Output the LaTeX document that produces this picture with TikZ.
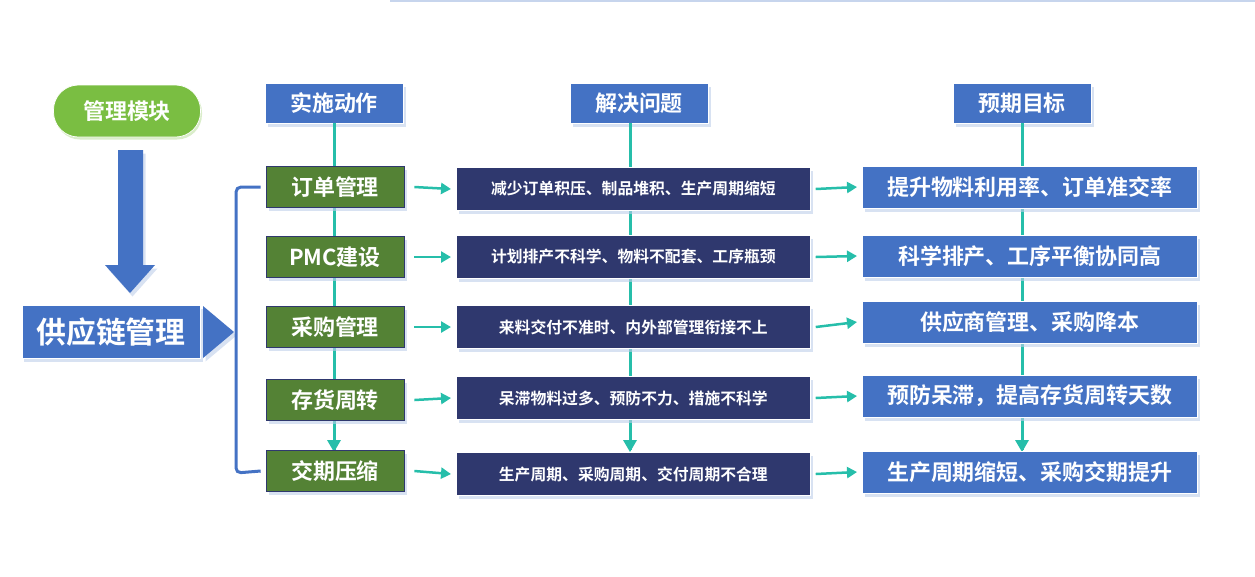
\documentclass[tikz,border=0pt]{standalone}
\usepackage{fontspec}
\setmainfont{Noto Sans CJK SC}[BoldFont={Noto Sans CJK SC Bold}]
\usetikzlibrary{shapes.geometric, arrows.meta, shadows}
\definecolor{hdblue}{RGB}{68,114,196}
\definecolor{actgreen}{RGB}{84,130,53}
\definecolor{pillgreen}{RGB}{122,190,66}
\definecolor{navy}{RGB}{47,56,110}
\definecolor{teal}{RGB}{38,190,170}
\tikzstyle{shade} = [drop shadow={shadow xshift=0.5mm, shadow yshift=-0.7mm, fill=hdblue!35, opacity=0.6}]
\tikzstyle{headbox} = [rectangle, minimum width=27.6mm, minimum height=8mm, draw=white, fill=hdblue, text=white, font=\bfseries\fontsize{12.5}{14}\selectfont, shade]
\tikzstyle{actbox} = [rectangle, minimum width=27.6mm, minimum height=8.2mm, draw=navy, fill=actgreen, text=white, font=\bfseries\fontsize{12.5}{14}\selectfont, shade]
\tikzstyle{probbox} = [rectangle, minimum width=70.8mm, minimum height=8.6mm, draw=white, fill=navy, text=white, font=\bfseries\fontsize{9}{11}\selectfont, shade, anchor=west, inner xsep=2mm]
\tikzstyle{goalbox} = [rectangle, minimum width=67mm, minimum height=8.4mm, draw=white, fill=hdblue, text=white, font=\bfseries\fontsize{12.5}{14}\selectfont, shade, anchor=west, inner xsep=2mm]
\tikzstyle{arrow} = [teal, line width=0.5mm, -{Triangle[length=2mm,width=2.2mm]}]
\tikzstyle{vline} = [teal, line width=0.6mm]

\begin{document}
\begin{tikzpicture}[x=0.2mm, y=-0.2mm]
\useasboundingbox (0,0) rectangle (1255,576);
\draw[hdblue!30, line width=0.6mm] (390,0) -- (1255,0);

% Left part
\node (module) [rounded corners=5mm, minimum width=29.4mm, minimum height=10.4mm, draw=white, fill=pillgreen, text=white, font=\bfseries\fontsize{12.5}{14}\selectfont, drop shadow={shadow xshift=0.3mm, shadow yshift=-0.5mm, fill=pillgreen!40, opacity=0.7}] at (127,111) {管理模块};
\fill[hdblue, shade] (118,150) -- (143,150) -- (143,265) -- (155,265) -- (130,293) -- (105,265) -- (118,265) -- cycle;
\node (supply) [rectangle, minimum width=35.6mm, minimum height=10.6mm, draw=white, fill=hdblue, text=white, font=\bfseries\fontsize{17}{19}\selectfont, shade] at (111,332) {供应链管理};
\fill[hdblue, shade] (203,306) -- (234,332) -- (203,358) -- cycle;

% Headers
\node (hact) [headbox] at (334,103) {实施动作};
\node (hprob) [headbox] at (639,103) {解决问题};
\node (hgoal) [headbox] at (1022,103) {预期目标};

% Vertical lines (behind boxes)
\draw [vline] (hact) -- (334,450);
\draw [vline] (630,123) -- (630,450);
\draw [vline] (1022,123) -- (1022,450);
\fill[teal] (327,440) -- (341,440) -- (334,452) -- cycle;
\fill[teal] (623,440) -- (637,440) -- (630,452) -- cycle;
\fill[teal] (1015,440) -- (1029,440) -- (1022,452) -- cycle;

% Rows
\node (a1) [actbox] at (335,187) {订单管理};
\node (a2) [actbox] at (335,257) {PMC建设};
\node (a3) [actbox] at (335,327) {采购管理};
\node (a4) [actbox] at (335,400) {存货周转};
\node (a5) [actbox] at (335,471) {交期压缩};

\node (p1) [probbox] at (456,189) {减少订单积压、制品堆积、生产周期缩短};
\node (p2) [probbox] at (456,257) {计划排产不科学、物料不配套、工序瓶颈};
\node (p3) [probbox] at (456,327) {来料交付不准时、内外部管理衔接不上};
\node (p4) [probbox] at (456,398) {呆滞物料过多、预防不力、措施不科学};
\node (p5) [probbox] at (456,474) {生产周期、采购周期、交付周期不合理};

\node (g1) [goalbox] at (862,187) {提升物料利用率、订单准交率};
\node (g2) [goalbox] at (862,256) {科学排产、工序平衡协同高};
\node (g3) [goalbox] at (862,322) {供应商管理、采购降本};
\node (g4) [goalbox] at (862,396) {预防呆滞，提高存货周转天数};
\node (g5) [goalbox] at (862,472) {生产周期缩短、采购交期提升};

% Arrows
\foreach \i in {1,...,5}{
  \draw [arrow] ([xshift=2mm]a\i.east) -- ([xshift=-1mm]p\i.west);
  \draw [arrow] ([xshift=1mm]p\i.east) -- ([xshift=-1mm]g\i.west);
}

% Bracket
\draw [hdblue, line width=0.6mm, rounded corners=1mm] ([xshift=-1mm]a1.west) -- (236,187) -- (236,473) -- ([xshift=-1mm]a5.west);
\end{tikzpicture}
\end{document}
